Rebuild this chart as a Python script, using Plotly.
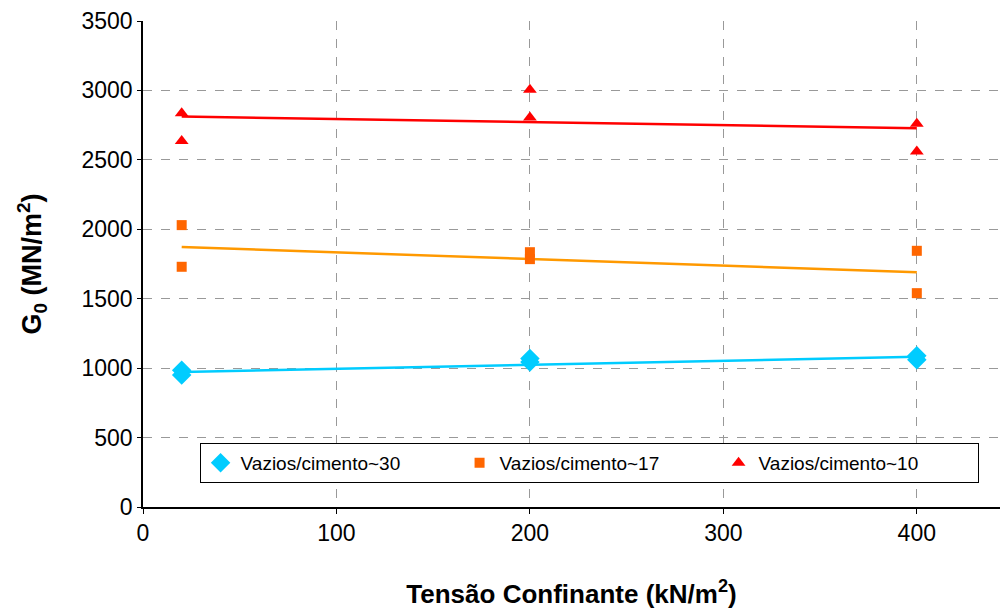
import plotly.graph_objects as go

# Measured points (confining stress kN/m2 -> G0 MN/m2)
x_pts = [20, 20, 200, 200, 400, 400]
g0_vc30 = [985, 950, 1070, 1045, 1090, 1060]
g0_vc17 = [2030, 1730, 1835, 1785, 1845, 1540]
g0_vc10 = [2835, 2635, 3005, 2805, 2760, 2560]

# Trend line end points
x_trend = [20, 400]
trend_vc30 = [972, 1082]
trend_vc17 = [1872, 1690]
trend_vc10 = [2812, 2728]

names = ["Vazios/cimento~30", "Vazios/cimento~17", "Vazios/cimento~10"]
point_colors = ["#00CCFF", "#FF6600", "#FF0000"]
line_colors = ["#00CCFF", "#FF9900", "#FF0000"]
symbols = ["diamond", "square", "triangle-up"]
sizes = [15, 10, 12]

fig = go.Figure()

for g0, trend, name, pc, lc, sym, sz in zip(
        [g0_vc30, g0_vc17, g0_vc10], [trend_vc30, trend_vc17, trend_vc10],
        names, point_colors, line_colors, symbols, sizes):
    fig.add_trace(go.Scatter(x=x_trend, y=trend, mode='lines',
                             line=dict(color=lc, width=2.5), showlegend=False,
                             hoverinfo='skip'))
    fig.add_trace(go.Scatter(x=x_pts, y=g0, mode='markers', name=name,
                             marker=dict(symbol=sym, color=pc, size=sz)))

fig.update_layout(
    width=1002, height=611,
    paper_bgcolor='white', plot_bgcolor='white',
    margin=dict(l=143, r=2, t=21, b=104),
    font=dict(family="Liberation Sans, Arial, sans-serif", color='black'),
    legend=dict(
        orientation='h', x=0.066, y=0.132, xanchor='left', yanchor='top',
        bordercolor='black', borderwidth=1, bgcolor='white',
        font=dict(size=19), entrywidth=214, itemwidth=30,
    ),
    xaxis=dict(
        range=[0, 443], tickvals=[0, 100, 200, 300, 400],
        showgrid=True, gridcolor='#999999', griddash='dash', gridwidth=1,
        showline=True, linecolor='black', linewidth=1.5,
        ticks='outside', ticklen=5, tickcolor='black',
        tickfont=dict(size=23), zeroline=False, automargin=False,
        title=dict(text="<b>Tensão Confinante (kN/m<sup>2</sup>)</b>",
                   font=dict(size=26), standoff=39),
    ),
    yaxis=dict(
        range=[0, 3500], dtick=500,
        showgrid=True, gridcolor='#999999', griddash='dash', gridwidth=1,
        showline=True, linecolor='black', linewidth=1.5,
        ticks='outside', ticklen=4, tickcolor='black',
        tickfont=dict(size=23), zeroline=False, automargin=False,
        title=dict(text="<b>G<sub>0</sub> (MN/m<sup>2</sup>)</b>",
                   font=dict(size=27), standoff=32),
    ),
)

fig.write_html("out.html", config={"displayModeBar": False},
               post_script="document.body.style.margin='0';")
